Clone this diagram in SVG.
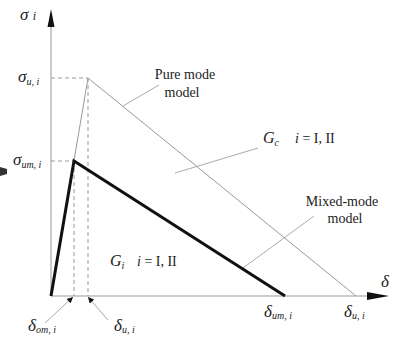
<svg xmlns="http://www.w3.org/2000/svg" width="395" height="339" viewBox="0 0 395 339">
<defs>
<style>
.t{font-family:"Liberation Serif","Times New Roman",serif;fill:#222;}
.lbl{font-size:14px;}
.sym{font-size:17px;font-style:italic;}
.sub{font-size:10px;font-style:italic;}
.grey{stroke:#999;stroke-width:1;fill:none;}
.dash{stroke:#999;stroke-width:1;stroke-dasharray:4,3;fill:none;}
.lead{stroke:#aaa;stroke-width:1;fill:none;}
.thick{stroke:#111;stroke-width:3;fill:none;stroke-linejoin:miter;}
</style>
<marker id="ah" viewBox="0 0 10 10" refX="10" refY="5" markerWidth="8" markerHeight="6" orient="auto" markerUnits="userSpaceOnUse">
<path d="M0,0 L10,5 L0,10 z" fill="#111"/>
</marker>
</defs>
<rect width="395" height="339" fill="#fff"/>
<polygon points="0,167 7,169 7,174 0,176" fill="#333"/>
<g id="axes">
<line class="grey" x1="51" y1="296" x2="51" y2="24"/>
<polygon points="51,9 47.5,27 54.5,27" fill="#111"/>
<line class="grey" x1="51" y1="296" x2="372" y2="296"/>
<polygon points="389,296 367,292 367,300" fill="#111"/>
</g>
<g id="connectors">
<line class="dash" x1="51" y1="78" x2="88" y2="78"/>
<line class="dash" x1="88" y1="78" x2="88" y2="296"/>
<line class="dash" x1="51" y1="161" x2="74" y2="161"/>
<line class="dash" x1="74" y1="161" x2="74" y2="296"/>
<line class="lead" x1="123" y1="106" x2="159" y2="85"/>
<line class="lead" x1="175" y1="173" x2="258" y2="148"/>
<line class="lead" x1="243" y1="268" x2="314" y2="216"/>
<line class="lead" x1="45" y1="323" x2="73" y2="297" marker-end="url(#ah)"/>
<line class="lead" x1="108" y1="320" x2="88" y2="297" marker-end="url(#ah)"/>
</g>
<g id="pure-mode">
<polyline class="grey" points="51,296 88,78 356,296"/>
</g>
<g id="mixed-mode">
<polyline class="thick" points="51,296 74,161 285,296"/>
</g>
<g id="labels">
<text class="t sym" x="20" y="20">σ <tspan font-size="12">i</tspan></text>
<text class="t sym" x="18" y="82">σ<tspan class="sub" dy="3">u, i</tspan></text>
<text class="t sym" x="13" y="165">σ<tspan class="sub" dy="3">um, i</tspan></text>
<text class="t lbl" x="185" y="79" text-anchor="middle">Pure mode</text>
<text class="t lbl" x="182" y="97" text-anchor="middle">model</text>
<text class="t lbl" x="263" y="143"><tspan font-style="italic" font-size="16">G</tspan><tspan class="sub" dy="3">c</tspan><tspan x="295" dy="-3" font-style="italic">i</tspan> = I, II</text>
<text class="t lbl" x="342" y="206" text-anchor="middle">Mixed-mode</text>
<text class="t lbl" x="345" y="223" text-anchor="middle">model</text>
<text class="t lbl" x="110" y="266"><tspan font-style="italic" font-size="16">G</tspan><tspan class="sub" dy="3">i</tspan><tspan x="137" dy="-3" font-style="italic">i</tspan> = I, II</text>
<text class="t sym" x="381" y="287" font-size="19">δ</text>
<text class="t sym" x="264" y="317">δ<tspan class="sub" dy="2">um, i</tspan></text>
<text class="t sym" x="344" y="317">δ<tspan class="sub" dy="2">u, i</tspan></text>
<text class="t sym" x="28" y="331">δ<tspan class="sub" dy="2">om, i</tspan></text>
<text class="t sym" x="114" y="331">δ<tspan class="sub" dy="2">u, i</tspan></text>
</g>
</svg>
